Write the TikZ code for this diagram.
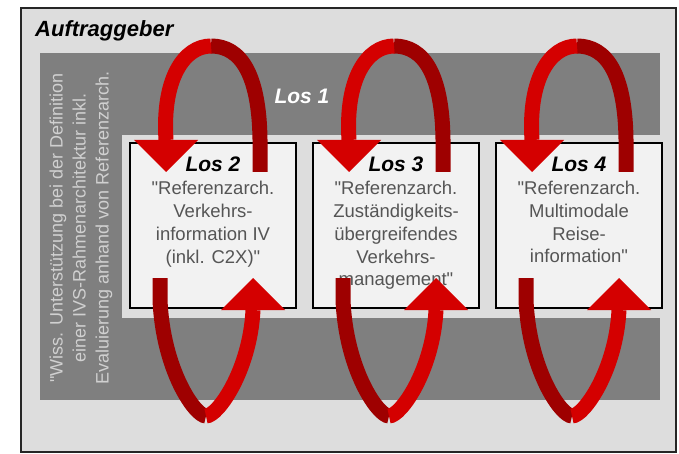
\documentclass[tikz,border=0pt]{standalone}
\usepackage{fontspec}
\setmainfont{Liberation Sans}[Ligatures=TeXOff]
\usepackage{tikz}
\usetikzlibrary{arrows.meta,positioning}
\definecolor{panelgray}{RGB}{221,221,221}
\definecolor{bandgray}{RGB}{127,127,127}
\definecolor{boxfill}{RGB}{242,242,242}
\definecolor{textgray}{RGB}{85,85,85}
\definecolor{sidegray}{RGB}{208,208,208}
\definecolor{redlight}{RGB}{212,0,0}
\definecolor{reddark}{RGB}{158,0,0}
\newcommand{\loshead}[1]{{\fontsize{21}{22.8}\selectfont\bfseries\itshape\color{black}#1}}

\begin{document}
\begin{tikzpicture}[
      x=1pt, y=-1pt,
      losbox/.style={
        draw=black, line width=2.2pt, fill=boxfill,
        minimum width=166pt, minimum height=165pt,
        inner sep=0pt, outer sep=0pt
      },
      lostext/.style={
        inner sep=0pt, align=center, text=textgray,
        font=\fontsize{18.5}{22.8}\selectfont
      },
      loop arrow/.style={line width=15pt},
      loop head/.style={-{Triangle[width=64pt,length=32pt,line width=0pt]}},
  ]
  \useasboundingbox (0,0) rectangle (679,454);

  % Auftraggeber frame and Los 1 band
  \draw[line width=1.6pt, draw=black!85, fill=panelgray] (21,8) rectangle (676,452);
  \fill[bandgray] (40,53) rectangle (660,400);
  \fill[panelgray] (122,135) rectangle (660,318);

  \node[anchor=base west, inner sep=0pt,
        font=\fontsize{22}{26}\selectfont\bfseries\itshape] (client) at (35,37) {Auftraggeber};
  \node[inner sep=0pt, text=white,
        font=\fontsize{21}{24}\selectfont\bfseries\itshape] (los1) at (302,96) {Los 1};
  \node[rotate=90, inner sep=0pt, align=center, text=sidegray,
        font=\fontsize{18}{23}\selectfont] (side) at (81,228)
        {"Wiss. Unterstützung bei der Definition\\einer IVS-Rahmenarchitektur inkl.\\Evaluierung anhand von Referenzarch.};

  % Lose 2-4
  \node[losbox] (los2) at (213,225.5) {};
  \node[losbox, right=17pt of los2] (los3) {};
  \node[losbox, right=17pt of los3] (los4) {};

  \node[lostext, below=14pt of los2.north] (los2txt)
        {\loshead{Los 2}\\"Referenzarch.\\Verkehrs-\\information IV\\(inkl. C2X)"};
  \node[lostext, below=14pt of los3.north] (los3txt)
        {\loshead{Los 3}\\"Referenzarch.\\Zuständigkeits-\\übergreifendes\\Verkehrs-\\management"};
  \node[lostext, below=14pt of los4.north] (los4txt)
        {\loshead{Los 4}\\"Referenzarch.\\Multimodale\\Reise-\\information"};

  % loops over and under each Los
  \foreach \b in {los2,los3,los4}{
    \begin{scope}[shift={(\b.north west)}]
      \draw[loop arrow, reddark] (130,29) -- (130,7)
            .. controls (131,-70) and (110,-97) .. (81,-97);
      \draw[loop arrow, redlight, loop head] (81,-97)
            .. controls (54,-97) and (32,-64) .. (36,-3) -- (36,29);
      \draw[loop arrow, reddark] (30,135) -- (30,157)
            .. controls (33,227) and (65,273) .. (76,273);
      \draw[loop arrow, redlight, loop head] (76,273)
            .. controls (88,273) and (120,227) .. (123,167) -- (123,135);
    \end{scope}
  }
\end{tikzpicture}
\end{document}
